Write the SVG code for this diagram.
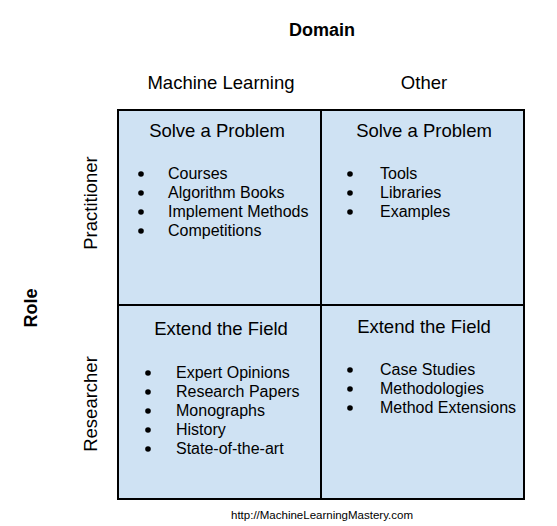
<svg xmlns="http://www.w3.org/2000/svg" width="557" height="526" viewBox="0 0 557 526">
<style>
text{font-family:"Liberation Sans",Arial,sans-serif;fill:#000}
.cell{fill:#cfe2f3;stroke:#000;stroke-width:2}
.h{font-size:18.5px;text-anchor:middle}
.b{font-size:16px}
.ax{font-size:18.5px;text-anchor:middle}
.bold{font-size:18px;font-weight:bold;text-anchor:middle}
</style>
<rect width="557" height="526" fill="#fff"/>
<g id="axes">
<text class="bold" x="322" y="36">Domain</text>
<text class="ax" x="221" y="89">Machine Learning</text>
<text class="ax" x="424" y="89">Other</text>
<text class="bold" transform="translate(37,308) rotate(-90)">Role</text>
<text class="ax" transform="translate(97,203) rotate(-90)">Practitioner</text>
<text class="ax" transform="translate(97,404) rotate(-90)">Researcher</text>
</g>
<g id="ml-practitioner">
<rect class="cell" x="118" y="110" width="203" height="195"/>
<text class="h" x="217" y="137">Solve a Problem</text>
<circle cx="141" cy="174" r="2.8"/><text class="b" x="168" y="179">Courses</text>
<circle cx="141" cy="193" r="2.8"/><text class="b" x="168" y="198">Algorithm Books</text>
<circle cx="141" cy="212" r="2.8"/><text class="b" x="168" y="217">Implement Methods</text>
<circle cx="141" cy="231" r="2.8"/><text class="b" x="168" y="236">Competitions</text>
</g>
<g id="other-practitioner">
<rect class="cell" x="321" y="110" width="203" height="195"/>
<text class="h" x="424" y="137">Solve a Problem</text>
<circle cx="350" cy="174" r="2.8"/><text class="b" x="380" y="179">Tools</text>
<circle cx="350" cy="193" r="2.8"/><text class="b" x="380" y="198">Libraries</text>
<circle cx="350" cy="212" r="2.8"/><text class="b" x="380" y="217">Examples</text>
</g>
<g id="ml-researcher">
<rect class="cell" x="118" y="305" width="203" height="194"/>
<text class="h" x="221" y="335">Extend the Field</text>
<circle cx="148" cy="373" r="2.8"/><text class="b" x="176" y="378">Expert Opinions</text>
<circle cx="148" cy="392" r="2.8"/><text class="b" x="176" y="397">Research Papers</text>
<circle cx="148" cy="411" r="2.8"/><text class="b" x="176" y="416">Monographs</text>
<circle cx="148" cy="430" r="2.8"/><text class="b" x="176" y="435">History</text>
<circle cx="148" cy="449" r="2.8"/><text class="b" x="176" y="454">State-of-the-art</text>
</g>
<g id="other-researcher">
<rect class="cell" x="321" y="305" width="203" height="194"/>
<text class="h" x="424" y="333">Extend the Field</text>
<circle cx="350" cy="370" r="2.8"/><text class="b" x="380" y="375">Case Studies</text>
<circle cx="350" cy="389" r="2.8"/><text class="b" x="380" y="394">Methodologies</text>
<circle cx="350" cy="408" r="2.8"/><text class="b" x="380" y="413">Method Extensions</text>
</g>
<g id="connectors"></g>
<text x="322" y="519" font-size="11.5" text-anchor="middle">http://MachineLearningMastery.com</text>
</svg>
